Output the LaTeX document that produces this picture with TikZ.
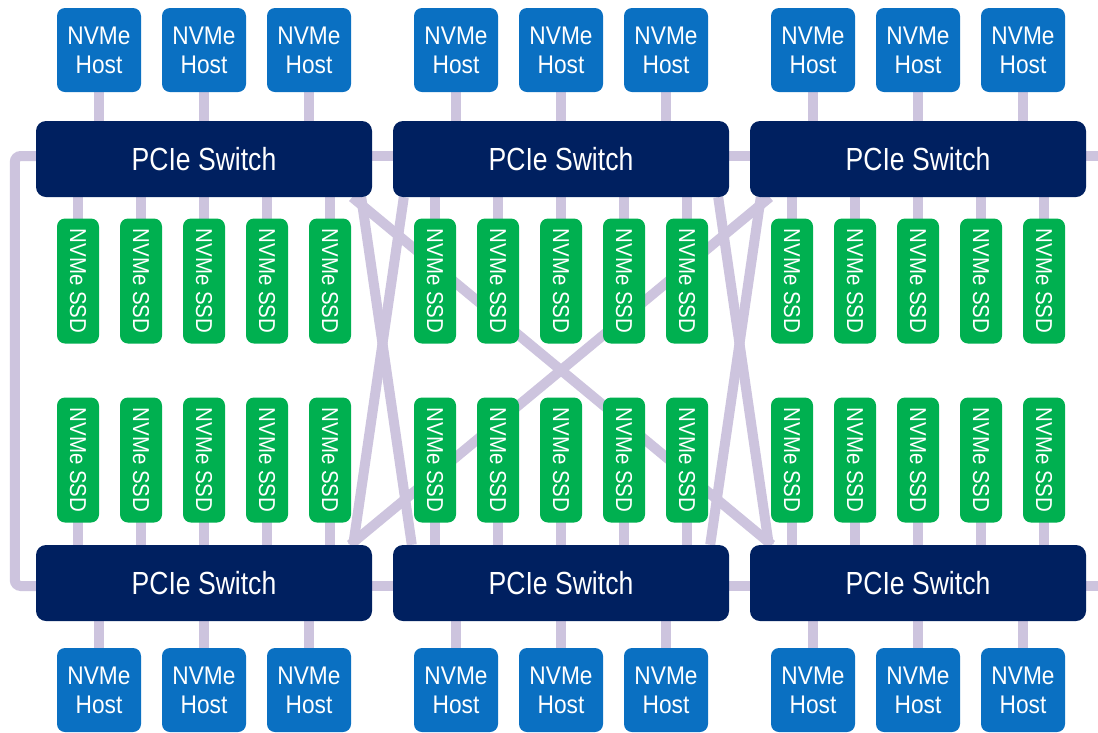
\documentclass[tikz,border=0pt]{standalone}
\usepackage{fontspec}
\setmainfont{Liberation Sans}
\newfontfamily\swfont{Liberation Sans}[FakeStretch=0.83]
\newfontfamily\hostfont{Liberation Sans}[FakeStretch=0.89]
\newfontfamily\ssdfont{Liberation Sans}[FakeStretch=0.89]
\usetikzlibrary{backgrounds,calc}

\definecolor{hostblue}{RGB}{10,112,194}
\definecolor{swnavy}{RGB}{0,32,96}
\definecolor{ssdgreen}{RGB}{0,176,80}
\definecolor{linkc}{RGB}{205,196,222}

\begin{document}
\begin{tikzpicture}[x=1pt,y=-1pt,
  hostbox/.style={fill=hostblue, rounded corners=8pt, minimum width=84pt,
    minimum height=84pt, inner sep=0pt, text=white, align=center,
    font=\hostfont\fontsize{25.5}{29}\selectfont},
  switchbox/.style={fill=swnavy, rounded corners=10pt, minimum width=336pt,
    minimum height=76pt, inner sep=0pt, text=white,
    font=\swfont\fontsize{32}{36}\selectfont},
  ssdbox/.style={fill=ssdgreen, rounded corners=8pt, rotate=-90,
    minimum width=125pt, minimum height=42pt, inner sep=0pt, text=white,
    font=\ssdfont\fontsize{23}{26}\selectfont},
  link/.style={draw=linkc, line width=10pt}]

\useasboundingbox (0,0) rectangle (1098,732);
\begin{scope}[on background layer]
  \fill[white] (0,0) rectangle (1098,732);
\end{scope}

% three columns of switches, hosts and drives
\foreach \g in {0,1,2} {
  \pgfmathsetmacro{\cx}{204+357*\g}
  \node[switchbox] (t\g) at (\cx,159) {PCIe Switch};
  \node[switchbox] (b\g) at (\cx,583) {PCIe Switch};
  \foreach \i/\dx in {0/-105,1/0,2/105} {
    \node[hostbox] (ht\g\i) at (\cx+\dx,50) {NVMe\\Host};
    \node[hostbox] (hb\g\i) at (\cx+\dx,690) {NVMe\\Host};
  }
  \foreach \i/\dx in {0/-126,1/-63,2/0,3/63,4/126} {
    \node[ssdbox] (st\g\i) at (\cx+\dx,281) {NVMe SSD};
    \node[ssdbox] (sb\g\i) at (\cx+\dx,460) {NVMe SSD};
  }
}

% links, drawn behind the boxes
\begin{scope}[on background layer]
  \foreach \g in {0,1,2} {
    \foreach \i in {0,1,2} {
      \draw[link] (ht\g\i.center) -- (ht\g\i.center |- t\g.center);
      \draw[link] (hb\g\i.center) -- (hb\g\i.center |- b\g.center);
    }
    \foreach \i in {0,...,4} {
      \draw[link] (st\g\i.center) -- (st\g\i.center |- t\g.center);
      \draw[link] (sb\g\i.center) -- (sb\g\i.center |- b\g.center);
    }
  }
  % switch-to-switch links in each row
  \draw[link] ([yshift=3pt]t0.east) -- ([yshift=3pt]t1.west);
  \draw[link] ([yshift=3pt]t1.east) -- ([yshift=3pt]t2.west);
  \draw[link] ([yshift=-3pt]b0.east) -- ([yshift=-3pt]b1.west);
  \draw[link] ([yshift=-3pt]b1.east) -- ([yshift=-3pt]b2.west);
  \draw[link] ([yshift=3pt]t2.east) -- ++(16,0);
  \draw[link] ([yshift=-3pt]b2.east) -- ++(16,0);
  % left loop between the first top and bottom switches
  \draw[link, rounded corners=6pt] ([yshift=3pt]t0.west) -- ++(-21,0)
    |- ([yshift=-3pt]b0.west);
  % cross links between the two rows
  \draw[link] ([xshift=-11pt]t0.south east) -- ([xshift=19pt]b1.north west);
  \draw[link] ([xshift=11pt]t1.south west) -- ([xshift=-19pt]b0.north east);
  \draw[link] ([xshift=-20pt]t0.south east) -- ([xshift=22pt]b2.north west);
  \draw[link] ([xshift=20pt]t2.south west) -- ([xshift=-22pt]b0.north east);
  \draw[link] ([xshift=-11pt]t1.south east) -- ([xshift=19pt]b2.north west);
  \draw[link] ([xshift=11pt]t2.south west) -- ([xshift=-19pt]b1.north east);
\end{scope}
\end{tikzpicture}
\end{document}
